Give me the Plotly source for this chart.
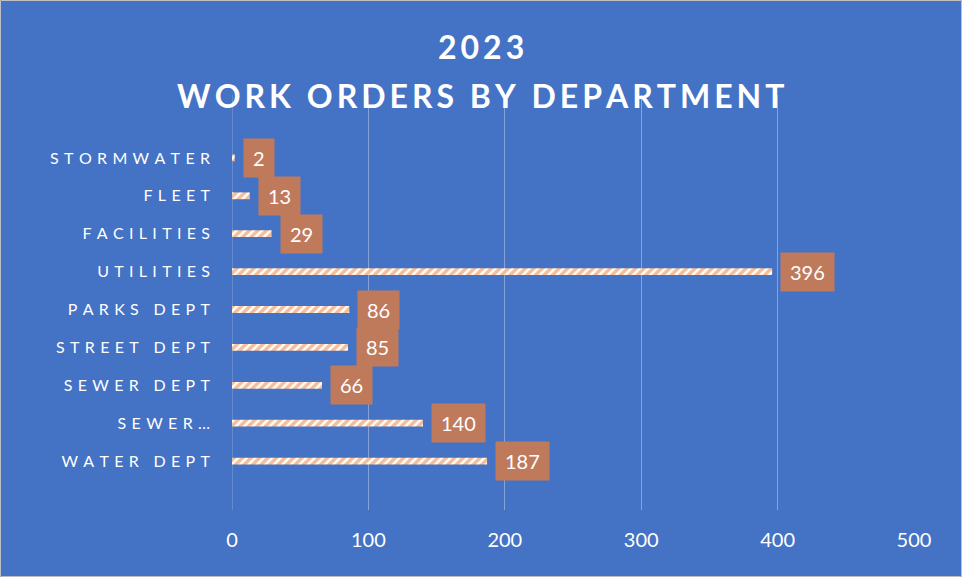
import plotly.graph_objects as go

categories = ["WATER DEPT", "SEWER…", "SEWER DEPT", "STREET DEPT", "PARKS DEPT",
              "UTILITIES", "FACILITIES", "FLEET", "STORMWATER"]
values = [187, 140, 66, 85, 86, 396, 29, 13, 2]
x_ticks = [0, 100, 200, 300, 400, 500]
title_lines = ["2023", "WORK ORDERS BY DEPARTMENT"]

BG = "#4472C4"
FONT = "Lato"


def spaced(s, sep, wsep):
    words = s.split(" ")
    return wsep.join(sep.join(list(w)) for w in words)


tick_text = [spaced(c, "\u2004", "\u2004 \u2004") for c in categories]

fig = go.Figure()
fig.add_trace(go.Bar(
    y=categories, x=values, orientation="h", width=0.18,
    marker=dict(color="white", line=dict(width=0),
                pattern=dict(shape="/", fgcolor="#ED7D31", bgcolor="white",
                             size=6, solidity=0.6)),
    hoverinfo="skip",
))

for c, v in zip(categories, values):
    fig.add_annotation(x=v, y=c, xref="x", yref="y", text=str(v), showarrow=False,
                       xanchor="left", yanchor="middle", xshift=8,
                       bgcolor="#BF7A5C", borderpad=9, height=20,
                       font=dict(family=FONT, size=20, color="white"))

title_y = [1.1157, 1.0]
for t, yy in zip(title_lines, title_y):
    fig.add_annotation(x=0.3651, y=yy, xref="paper", yref="paper",
                       text=spaced(t, "\u2009", "\u2009 \u2009"),
                       showarrow=False, xanchor="center", yanchor="middle",
                       font=dict(family=FONT, size=32, color="white", weight="bold"))

fig.add_shape(type="rect", xref="paper", yref="paper",
              x0=-0.3394, x1=1.0697, y0=-0.1602, y1=1.2277,
              line=dict(color="#BFBFBF", width=1), layer="below")

fig.update_layout(
    width=962, height=577,
    margin=dict(l=232, r=48, t=95, b=67),
    paper_bgcolor=BG, plot_bgcolor=BG,
    showlegend=False,
    xaxis=dict(range=[0, 500], tickvals=x_ticks, ticktext=[str(t) for t in x_ticks],
               showgrid=True, gridcolor="rgba(255,255,255,0.35)", gridwidth=1,
               zeroline=False, showline=False, ticks="",
               ticklabelstandoff=16,
               tickfont=dict(family=FONT, size=20, color="white")),
    yaxis=dict(categoryorder="array", categoryarray=categories,
               tickvals=categories, ticktext=tick_text,
               range=[-1.29, 9.66], showgrid=False, zeroline=False, showline=False,
               ticks="", ticklabelstandoff=21,
               tickfont=dict(family=FONT, size=16, color="white")),
)
fig.add_vline(x=0, line=dict(color="rgba(255,255,255,0.35)", width=1), layer="below")

fig.write_html("out.html")
